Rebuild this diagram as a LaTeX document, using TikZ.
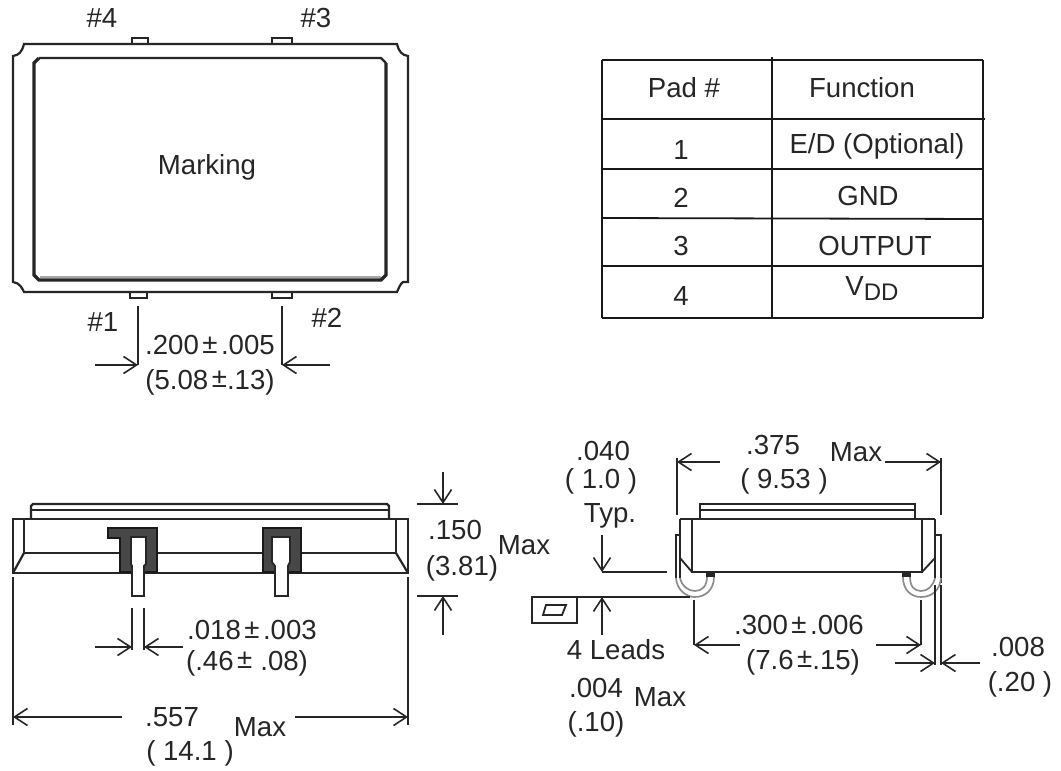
\documentclass[tikz,border=0pt]{standalone}
\usepackage{fontspec}
\setmainfont{Liberation Sans}
\usetikzlibrary{arrows.meta}
\newcommand{\plmi}{\hspace{3.5pt}\raisebox{1.5pt}{±}\hspace{3.5pt}}
\newcommand{\plmil}{\hspace{3.5pt}\raisebox{1.5pt}{±}}
\tikzset{
  lbl/.style={inner sep=0pt,text=black!85,font=\fontsize{27.6}{30}\selectfont},
  part/.style={line width=2.2pt,black!85},
  thin part/.style={line width=1.8pt,black!85},
  heavy/.style={line width=3.4pt,black!85},
  dim/.style={line width=1.7pt,black!85,-{Straight Barb[length=13pt,width=17pt,line width=1.6pt]}},
  ext/.style={line width=1.8pt,black!85},
  grid/.style={line width=1.8pt,black!90},
  plating/.style={line width=1.4pt,black!90,fill=black!72},
  leadbend/.style={black!45,line width=1.7pt}
}
\begin{document}
\begin{tikzpicture}[x=1pt,y=-1pt]
   \useasboundingbox (0,0) rectangle (1061,771);
   \fill[white] (0,0) rectangle (1061,771);

   \draw[part] (24,44) -- (397,44) .. controls (399,52) and (402,55) .. (408,56)
      -- (408,282) -- (403,282) .. controls (400,284) and (399,288) .. (397,292)
      -- (24,292) .. controls (22,288) and (20,283) .. (13,282)
      -- (13,56) .. controls (19,55) and (22,52) .. (24,44) -- cycle;
   \draw[black!35,line width=2pt] (40,277) -- (381,277);
   \draw[part] (39,58) -- (381,58) -- (386,63);
   \draw[heavy] (386,63) -- (386,275) -- (381,280) -- (39,280) -- (34,275) -- (34,63) -- (39,58);
   \draw[thin part] (132,44) -- (132,38) -- (148,38) -- (148,44);
   \draw[thin part] (272,44) -- (272,38) -- (292,38) -- (292,44);
   \draw[thin part] (130,292) -- (130,298) -- (147,298) -- (147,292);
   \draw[thin part] (272,292) -- (272,298) -- (292,298) -- (292,292);

   \node[lbl] (pin4) at (102,18) {\#4};
   \node[lbl] (pin3) at (316,18) {\#3};
   \node[lbl] (pin1) at (103,322) {\#1};
   \node[lbl] (pin2) at (327,318) {\#2};
   \node[lbl] (mark) at (207,167) {Marking};
   \draw[ext] (138,306) -- (138,365);
   \draw[ext] (282,306) -- (282,365);
   \draw[dim] (95,365) -- (138,365);
   \draw[dim] (330,365) -- (282,365);
   \node[lbl] (pitch) at (210,345) {.200\plmi.005};
   \node[lbl] (pitchmm) at (210,382) {(5.08\plmil.13)};

   \draw[grid] (602,60) -- (983,60);
   \draw[grid] (602,119) -- (985,119);
   \draw[grid] (602,169) -- (983,169);
   \draw[grid] (602,218) -- (983,219);
   \draw[grid] (602,266) -- (983,266);
   \draw[grid] (602,318) -- (983,318);
   \draw[grid] (602,60) -- (602,318);
   \draw[grid] (772,57) -- (772,318);
   \draw[grid] (983,60) -- (983,318);
   \node[lbl] (padh) at (684,88) {Pad \#};
   \node[lbl] (funh) at (862,88) {Function};
   \node[lbl] (pad1) at (681,150) {1};
   \node[lbl] (fun1) at (877,146) {E/D (Optional)};
   \node[lbl] (pad2) at (681,198) {2};
   \node[lbl] (fun2) at (868,196) {GND};
   \node[lbl] (pad3) at (681,246) {3};
   \node[lbl] (fun3) at (875,246) {OUTPUT};
   \node[lbl] (pad4) at (681,296) {4};
   \node[lbl] (fun4) at (872,289) {V\raisebox{-5pt}{\fontsize{24}{26}\selectfont DD}};

   \draw[part] (31,519) -- (31,506) -- (33,504) -- (387,504) -- (389,506) -- (389,519);
   \draw[part] (31,510) -- (389,510);
   \draw[part] (13,519) rectangle (408,573);
   \draw[part] (24,519) -- (24,553) -- (396,553) -- (396,519);
   \draw[part] (24,553) -- (13,573);
   \draw[part] (396,553) -- (408,573);
   \draw[plating] (108,528) -- (157,528) -- (157,572) -- (120,572) -- (120,538) -- (108,538) -- cycle;
   \draw[plating] (263,528) -- (301,528) -- (301,572) -- (263,572) -- cycle;
   \draw[thin part,fill=white] (132,596) -- (132,566) -- (131,564) -- (131,537) -- (146,537) -- (146,564) -- (144,566) -- (144,596) -- cycle;
   \draw[thin part,fill=white] (275,596) -- (275,566) -- (272,562) -- (272,537) -- (290,537) -- (290,562) -- (288,566) -- (288,596) -- cycle;

   \draw[ext] (417,504) -- (458,504);
   \draw[ext] (417,596) -- (458,596);
   \draw[dim] (443,472) -- (443,504);
   \draw[dim] (443,635) -- (443,596);
   \node[lbl] (ht) at (455,530) {.150};
   \node[lbl] (htmm) at (462,568) {(3.81)};
   \node[lbl] (htmax) at (524,545) {Max};

   \draw[ext] (132,608) -- (132,650);
   \draw[ext] (144,608) -- (144,650);
   \draw[dim] (95,647) -- (132,647);
   \draw[dim] (183,647) -- (144,647);
   \node[lbl] (lead) at (252,630) {.018\plmi.003};
   \node[lbl] (leadmm) at (247,663) {(.46\plmi\,.08)};

   \draw[ext] (13,577) -- (13,725);
   \draw[ext] (408,577) -- (408,725);
   \draw[dim] (122,717) -- (13,717);
   \draw[dim] (295,717) -- (408,717);
   \node[lbl] (len) at (172,717) {.557};
   \node[lbl] (lenmax) at (260,727) {Max};
   \node[lbl] (lenmm) at (190,753) {( 14.1 )};

   \draw[part] (700,519) -- (700,504) -- (915,504) -- (915,519);
   \draw[part] (700,510) -- (915,510);
   \draw[part] (680,519) -- (935,519);
   \draw[part] (692,519) -- (692,572) -- (922,572) -- (922,519);
   \draw[part] (680,519) -- (680,578);
   \draw[part] (935,519) -- (935,578);
   \draw[thin part] (680,558) -- (692,572);
   \draw[thin part] (935,558) -- (922,572);
   \draw[thin part] (680,535) -- (676,535) -- (676,578);
   \draw[thin part] (935,535) -- (941,535) -- (941,583);

   \draw[leadbend] (676,578) .. controls (677,590) and (686,597) .. (695,597)
      .. controls (705,597) and (714,590) .. (714,577);
   \draw[leadbend] (680,578) .. controls (682,586) and (688,591) .. (695,591)
      .. controls (702,591) and (707,586) .. (707,577);
   \draw[leadbend] (941,578) .. controls (940,590) and (932,597) .. (921,597)
      .. controls (911,597) and (903,590) .. (903,577);
   \draw[leadbend] (935,578) .. controls (933,586) and (928,591) .. (921,591)
      .. controls (914,591) and (910,586) .. (910,577);
   \fill[black!85] (706,572) rectangle (715,577);
   \fill[black!85] (902,572) rectangle (911,577);

   \draw[ext] (677,458) -- (677,515);
   \draw[ext] (941,458) -- (941,515);
   \draw[dim] (720,462) -- (677,462);
   \draw[dim] (885,462) -- (941,462);
   \node[lbl] (wid) at (773,445) {.375};
   \node[lbl] (widmax) at (856,452) {Max};
   \node[lbl] (widmm) at (784,481) {( 9.53 )};

   \node[lbl] (stand) at (603,451) {.040};
   \node[lbl] (standmm) at (601,481) {( 1.0 )};
   \node[lbl] (standtyp) at (610,516) {Typ.};
   \draw[dim] (602,535) -- (602,572);
   \draw[ext] (602,572) -- (667,572);
   \draw[ext] (532,597) -- (690,597);
   \draw[part] (532,597) rectangle (577,623);
   \draw[thin part] (546,605) -- (566,605) -- (562,615) -- (543,615) -- cycle;
   \draw[dim] (602,635) -- (602,597);
   \node[lbl] (leads) at (616,650) {4 Leads};
   \node[lbl] (flat) at (596,688) {.004};
   \node[lbl] (flatmax) at (660,697) {Max};
   \node[lbl] (flatmm) at (596,724) {(.10)};

   \draw[ext] (694,600) -- (694,645);
   \draw[ext] (921,600) -- (921,645);
   \draw[dim] (740,645) -- (694,645);
   \draw[dim] (876,645) -- (921,645);
   \node[lbl] (span) at (799,625) {.300\plmi.006};
   \node[lbl] (spanmm) at (803,662) {(7.6\plmil.15)};

   \draw[ext] (935,585) -- (935,665);
   \draw[ext] (941,585) -- (941,665);
   \draw[dim] (895,663) -- (935,663);
   \draw[dim] (980,663) -- (941,663);
   \node[lbl] (thk) at (1018,647) {.008};
   \node[lbl] (thkmm) at (1020,684) {(.20 )};
\end{tikzpicture}
\end{document}
